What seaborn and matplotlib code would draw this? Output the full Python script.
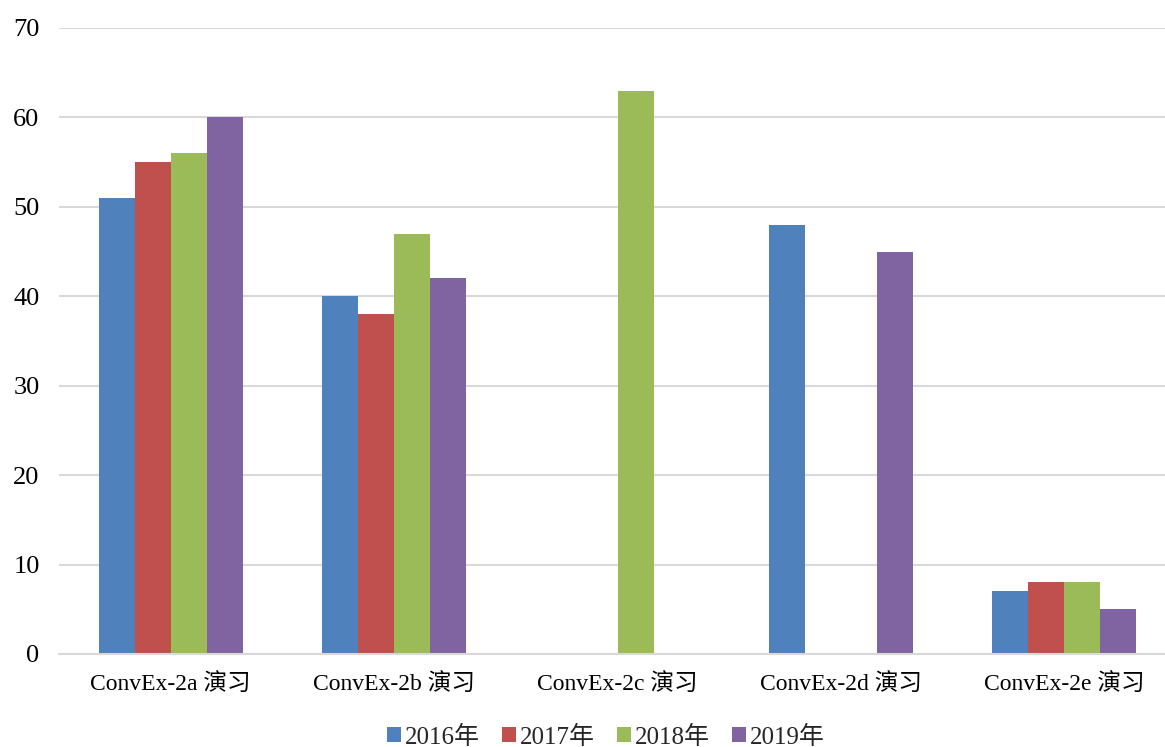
import matplotlib
matplotlib.use("Agg")
import matplotlib.pyplot as plt
import seaborn as sns
import pandas as pd

categories = ["ConvEx-2a 演习", "ConvEx-2b 演习", "ConvEx-2c 演习", "ConvEx-2d 演习", "ConvEx-2e 演习"]
series_names = ["2016年", "2017年", "2018年", "2019年"]
v2016 = [51, 40, 0, 48, 7]
v2017 = [55, 38, 0, 0, 8]
v2018 = [56, 47, 63, 0, 8]
v2019 = [60, 42, 0, 45, 5]
colors = ["#4F81BD", "#C0504D", "#9BBB59", "#8064A2"]
y_ticks = [0, 10, 20, 30, 40, 50, 60, 70]

rows = []
for name, vals in zip(series_names, [v2016, v2017, v2018, v2019]):
    for c, v in zip(categories, vals):
        rows.append({"cat": c, "series": name, "value": v})
df = pd.DataFrame(rows)

sns.set_theme(style="white")
plt.rcParams["font.family"] = ["Liberation Serif", "Noto Sans CJK SC"]

fig = plt.figure(figsize=(11.65, 7.47), dpi=100)
ax = fig.add_axes([59/1165, 1 - 654/747, 1117/1165, (654 - 28)/747])

sns.barplot(data=df, x="cat", y="value", hue="series", order=categories,
            hue_order=series_names, palette=colors, saturation=1, width=0.645,
            linewidth=0, errorbar=None, ax=ax, zorder=3)

ax.set_ylim(0, 70)
ax.set_yticks(y_ticks)
ax.set_xlim(-0.5, len(categories) - 0.5)
ax.yaxis.grid(True, color="#D9D9D9", linewidth=1.5, zorder=0)
ax.set_axisbelow(True)
for s in ["top", "right", "left"]:
    ax.spines[s].set_visible(False)
ax.spines["bottom"].set_color("#D9D9D9")
ax.spines["bottom"].set_linewidth(1.5)
ax.spines["bottom"].set_zorder(4)
ax.tick_params(axis="y", length=0, pad=14, labelsize=19, labelcolor="black")
ax.tick_params(axis="x", length=0, pad=14, labelsize=17, labelcolor="black")
ax.set_xlabel("")
ax.set_ylabel("")

handles, labels = ax.get_legend_handles_labels()
ax.get_legend().remove()
fig.legend(handles, labels, loc="center", bbox_to_anchor=(606/1165, 1 - 737/747),
           ncol=4, frameon=False, fontsize=18, handlelength=0.55, handleheight=0.55,
           handletextpad=0.15, columnspacing=0.9, borderaxespad=0, borderpad=0)

fig.savefig("out.png", dpi=100)
